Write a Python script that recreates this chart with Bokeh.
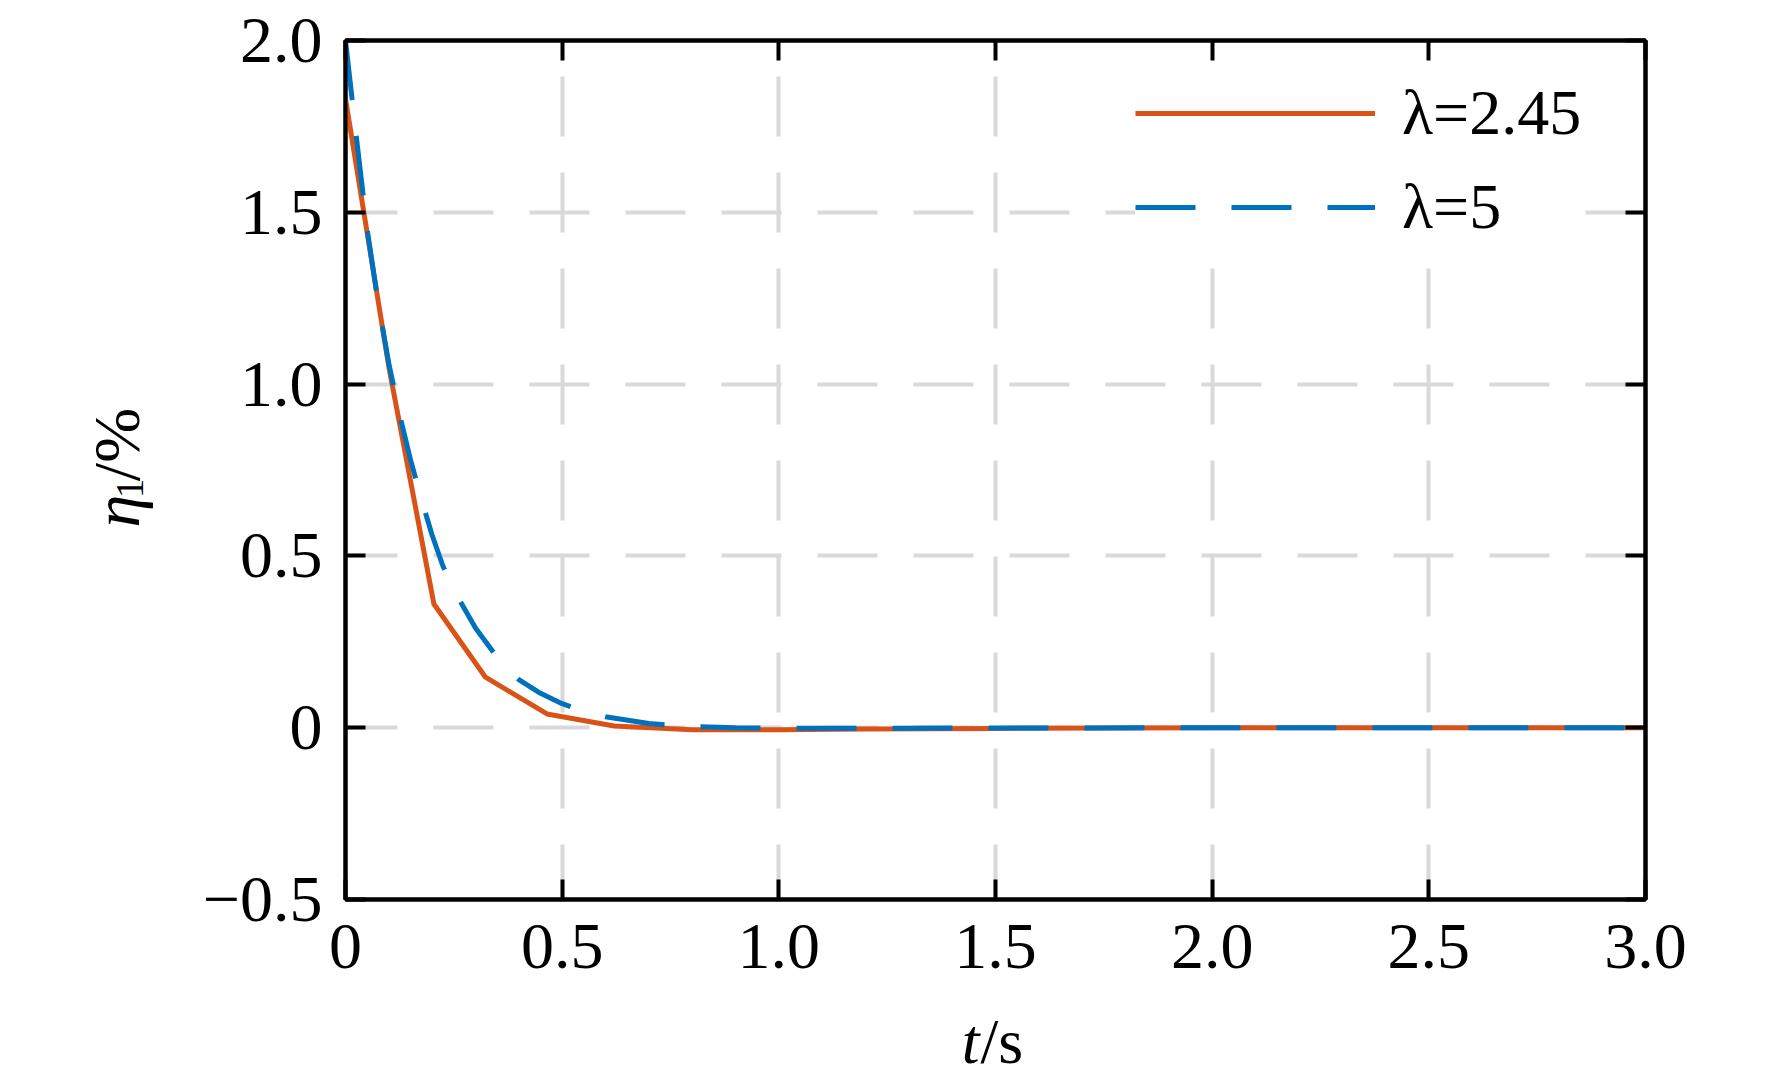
import math
from bokeh.plotting import figure
from bokeh.layouts import column, row
from bokeh.models import Range1d, LinearAxis, FixedTicker, Legend, LegendItem
from bokeh.core.properties import value
from bokeh.embed import file_html
from bokeh.resources import INLINE

# ---- data ----
t_a = [0.0, 0.1, 0.204, 0.323, 0.465, 0.62, 0.8, 1.0, 1.2, 1.5, 2.0, 2.5, 3.0]
eta_a = [1.83, 1.05, 0.36, 0.147, 0.040, 0.005, -0.006, -0.006, -0.004, -0.002, 0.0, 0.0, 0.0]

t_b = [0.0, 0.025, 0.05, 0.075, 0.1, 0.125, 0.15, 0.175, 0.2, 0.225, 0.25, 0.3, 0.35,
       0.4, 0.45, 0.5, 0.55, 0.6, 0.7, 0.8, 0.9, 1.0, 1.5, 2.0, 2.5, 3.0]
eta_b = [2.0, 1.72, 1.45, 1.24, 1.06, 0.91, 0.78, 0.665, 0.56, 0.47, 0.40, 0.29, 0.205,
         0.14, 0.10, 0.07, 0.048, 0.032, 0.012, 0.003, 0.0, -0.002, -0.001, 0.0, 0.0, 0.0]

x_ticks = [0.0, 0.5, 1.0, 1.5, 2.0, 2.5, 3.0]
x_tick_labels = ["0", "0.5", "1.0", "1.5", "2.0", "2.5", "3.0"]
y_ticks = [-0.5, 0.0, 0.5, 1.0, 1.5, 2.0]
y_tick_labels = ["\u22120.5", "0", "0.5", "1.0", "1.5", "2.0"]
series_labels = ["\u03bb=2.45", "\u03bb=5"]
x_label = ["t", "/s"]
y_label = ["\u03b7", "1", "/%"]

FONT = "Liberation Serif"
ORANGE = "#D95319"
BLUE = "#0072BD"
GRID = "#d9d9d9"

TOTAL_W, TOTAL_H = 1756, 1081
YLAB_W = 170
MAIN_H = 1000
XLAB_H = TOTAL_H - MAIN_H

# ---------------- main plot ----------------
p = figure(width=TOTAL_W - YLAB_W, height=MAIN_H,
           x_range=Range1d(0, 3), y_range=Range1d(-0.5, 2.0),
           output_backend="svg", toolbar_location=None,
           min_border_left=345 - YLAB_W, min_border_right=111,
           min_border_top=40, min_border_bottom=MAIN_H - 899)
p.background_fill_color = "white"
p.border_fill_color = "white"
p.outline_line_color = "black"
p.outline_line_width = 4

p.add_layout(LinearAxis(), "right")
p.add_layout(LinearAxis(), "above")

for ax in p.xaxis:
    ax.ticker = FixedTicker(ticks=x_ticks)
    ax.major_label_overrides = {t: l for t, l in zip(x_ticks, x_tick_labels)}
for ax in p.yaxis:
    ax.ticker = FixedTicker(ticks=y_ticks)
    ax.major_label_overrides = {t: l for t, l in zip(y_ticks, y_tick_labels)}

for ax in p.axis:
    ax.axis_line_color = "black"
    ax.axis_line_width = 4
    ax.major_tick_in = 20
    ax.major_tick_out = 0
    ax.major_tick_line_width = 4
    ax.major_tick_line_color = "black"
    ax.minor_tick_line_color = None
    ax.major_label_text_font = FONT
    ax.major_label_text_font_size = "66px"
    ax.major_label_text_color = "black"

p.below[0].major_label_standoff = 25
p.left[0].major_label_standoff = 23
p.right[0].major_label_text_color = None
p.above[0].major_label_text_color = None

p.xgrid.ticker = FixedTicker(ticks=x_ticks)
p.ygrid.ticker = FixedTicker(ticks=y_ticks)
for g in (p.xgrid, p.ygrid):
    g.grid_line_color = GRID
    g.grid_line_width = 4
    g.grid_line_dash = "60 36"
p.xgrid.grid_line_dash_offset = 5
p.ygrid.grid_line_dash_offset = 8

r_a = p.line(t_a, eta_a, line_color=ORANGE, line_width=5)
r_b = p.line(t_b, eta_b, line_color=BLUE, line_width=5, line_dash="60 36")

legend = Legend(items=[LegendItem(label=series_labels[0], renderers=[r_a]),
                       LegendItem(label=series_labels[1], renderers=[r_b])],
                location=(790, 652))
legend.label_text_font = FONT
legend.label_text_font_size = "64px"
legend.label_text_color = "black"
legend.glyph_width = 240
legend.glyph_height = 80
legend.label_height = 80
legend.label_standoff = 27
legend.spacing = 14
legend.padding = 20
legend.margin = 0
legend.border_line_color = None
legend.background_fill_color = "white"
legend.background_fill_alpha = 1.0
p.add_layout(legend)


def label_fig(w, h):
    f = figure(width=w, height=h, x_range=Range1d(0, w), y_range=Range1d(0, h),
               output_backend="svg", toolbar_location=None,
               x_axis_location=None, y_axis_location=None, min_border=0)
    f.outline_line_color = None
    f.background_fill_color = "white"
    f.border_fill_color = "white"
    f.grid.visible = False
    return f


# ---------------- y-axis label: italic eta, subscript 1, upright /% ----------------
yl = label_fig(YLAB_W, MAIN_H)
ang = math.pi / 2
yl_base = 116
yl.text(x=[yl_base], y=[433], text=[y_label[0]], angle=ang,
        text_font=value(FONT), text_font_style="italic", text_font_size="66px",
        text_align="left", text_baseline="alphabetic", text_color="black")
yl.text(x=[yl_base + 13], y=[467], text=[y_label[1]], angle=ang,
        text_font=value(FONT), text_font_style="normal", text_font_size="39px",
        text_align="left", text_baseline="alphabetic", text_color="black")
yl.text(x=[yl_base], y=[487], text=[y_label[2]], angle=ang,
        text_font=value(FONT), text_font_style="normal", text_font_size="66px",
        text_align="left", text_baseline="alphabetic", text_color="black")

# ---------------- x-axis label: italic t + upright /s ----------------
xl = label_fig(TOTAL_W, XLAB_H)
split_x = 979
base_y = XLAB_H - 41
xl.text(x=[split_x], y=[base_y], text=[x_label[0]],
        text_font=value(FONT), text_font_style="italic", text_font_size="64px",
        text_align="right", text_baseline="alphabetic", text_color="black")
xl.text(x=[split_x + 1], y=[base_y], text=[x_label[1]],
        text_font=value(FONT), text_font_style="normal", text_font_size="64px",
        text_align="left", text_baseline="alphabetic", text_color="black")

layout = column(row(yl, p, spacing=0), xl, spacing=0)
open("out.html", "w").write(file_html(layout, INLINE))
